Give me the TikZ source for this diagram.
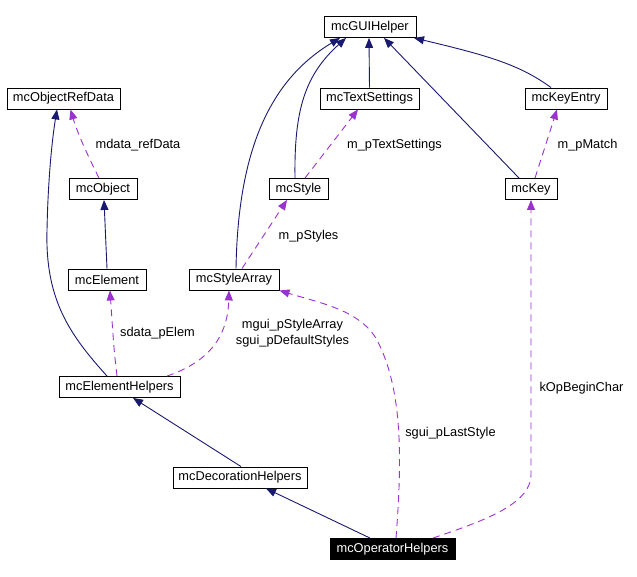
\documentclass[tikz,border=0pt]{standalone}
\usepackage{fontspec}
\setmainfont{Liberation Sans}
\usetikzlibrary{arrows.meta}
\definecolor{inhcol}{HTML}{191970}
\definecolor{usecol}{HTML}{9A32CD}
\tikzset{
  cls/.style={draw=black, line width=0.9pt, fill=white, inner sep=0pt, minimum height=21pt, font=\fontsize{12.8}{16}\selectfont},
  cur/.style={cls, fill=black, text=white},
  inh/.style={draw=inhcol, line width=0.9pt, -{Triangle[length=10pt,width=8pt]}, color=inhcol},
  use/.style={draw=usecol, line width=0.9pt, dash pattern=on 7pt off 5pt, -{Triangle[length=10pt,width=8pt]}, color=usecol},
  lbl/.style={inner sep=0pt, align=center, font=\fontsize{12.8}{16}\selectfont}
}
\begin{document}
\begin{tikzpicture}[x=1pt,y=-1pt]
\useasboundingbox (0,0) rectangle (637,577);
% nodes
\node[cls, minimum width=92pt] (gui) at (370,27) {mcGUIHelper};
\node[cls, minimum width=113pt] (ord) at (63.5,98.5) {mcObjectRefData};
\node[cls, minimum width=68pt] (obj) at (103,189) {mcObject};
\node[cls, minimum width=78pt] (ele) at (107,279.5) {mcElement};
\node[cls, minimum width=90pt] (sta) at (234,279.5) {mcStyleArray};
\node[cls, minimum width=59pt] (sty) at (298.5,189) {mcStyle};
\node[cls, minimum width=99pt] (txt) at (369.5,98.5) {mcTextSettings};
\node[cls, minimum width=82pt] (kye) at (566,98.5) {mcKeyEntry};
\node[cls, minimum width=52pt] (key) at (531,189) {mcKey};
\node[cls, minimum width=121pt] (elh) at (119.5,387) {mcElementHelpers};
\node[cls, minimum width=134pt] (dec) at (240,477.5) {mcDecorationHelpers};
\node[cur, minimum width=125pt] (opr) at (392.5,549) {mcOperatorHelpers};
% inheritance edges
\draw[inh] ([xshift=0pt]ele.north) -- ([xshift=1pt]obj.south);
\draw[inh] ([xshift=-12.5pt]elh.north) .. controls (70,335) and (45,300) .. (47,230) .. controls (48,180) and (52,140) .. ([xshift=-6.5pt]ord.south);
\draw[inh] ([xshift=2pt]sta.north) .. controls (238,150) and (270,80) .. ([xshift=-30pt]gui.south);
\draw[inh] ([xshift=-3.5pt]sty.north) .. controls (294,110) and (305,75) .. ([xshift=-24pt]gui.south);
\draw[inh] (txt.north) -- ([xshift=-1pt]gui.south);
\draw[inh] ([xshift=-12pt]key.north) -- ([xshift=14pt]gui.south);
\draw[inh] ([xshift=-15pt]kye.north) .. controls (520,65) and (490,56) .. ([xshift=44pt]gui.south);
\draw[inh] ([xshift=1pt]dec.north) -- ([xshift=13.5pt]elh.south);
\draw[inh] ([xshift=-22.5pt]opr.north) -- ([xshift=26pt]dec.south);
% usage edges
\draw[use] ([xshift=-4pt]obj.north) .. controls (90,160) and (78,135) .. ([xshift=7pt]ord.south);
\draw[use] ([xshift=-2.5pt]elh.north) .. controls (114,350) .. ([xshift=3pt]ele.south);
\draw[use] ([xshift=47.5pt]elh.north) .. controls (215,360) and (228,330) .. ([xshift=-5pt]sta.south);
\draw[use] ([xshift=8pt]sta.north) -- ([xshift=-11.5pt]sty.south);
\draw[use] ([xshift=6.5pt]sty.north) -- ([xshift=-11.5pt]txt.south);
\draw[use] ([xshift=4pt]key.north) -- ([xshift=-9pt]kye.south);
\draw[use] ([xshift=3.5pt]opr.north) .. controls (402,460) and (403,390) .. (377,340) .. controls (360,310) and (320,303) .. (sta.south east);
\draw[use] ([xshift=40.5pt]opr.north) .. controls (480,522) and (531,505) .. (531,475) -- (key.south);
% labels
\node[lbl] (l1) at (138,145) {mdata\_refData};
\node[lbl] (l2) at (308.5,236) {m\_pStyles};
\node[lbl] (l3) at (394.5,145) {m\_pTextSettings};
\node[lbl] (l4) at (587.5,145) {m\_pMatch};
\node[lbl] (l5) at (157.5,333) {sdata\_pElem};
\node[lbl] (l6) at (292.5,333) {mgui\_pStyleArray\\sgui\_pDefaultStyles};
\node[lbl] (l7) at (450.5,433) {sgui\_pLastStyle};
\node[lbl] (l8) at (581.5,388) {kOpBeginChar};
\end{tikzpicture}
\end{document}
